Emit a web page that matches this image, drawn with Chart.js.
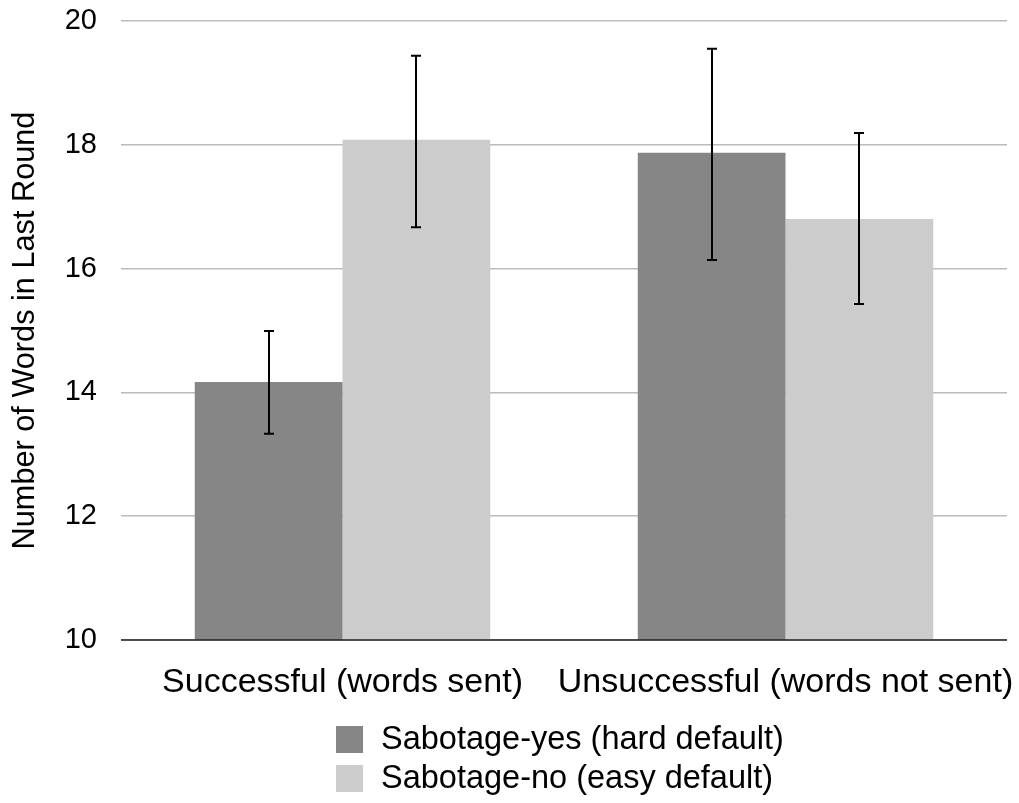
<!DOCTYPE html>
<html>
<head>
<meta charset="utf-8">
<script src="https://cdn.jsdelivr.net/npm/chart.js@4"></script>
<style>
  html, body { margin: 0; padding: 0; background: #fff; }
  #wrap { width: 1019px; height: 803px; position: relative; }
</style>
</head>
<body>
<div id="wrap"><canvas id="c" width="1019" height="803"></canvas></div>
<script>
const categories = ['Successful (words sent)', 'Unsuccessful (words not sent)'];
const seriesNames = ['Sabotage-yes (hard default)', 'Sabotage-no (easy default)'];
const yesValues = [14.17, 17.87];
const noValues = [18.08, 16.80];
const yesErrLow = [13.33, 16.14];
const yesErrHigh = [14.99, 19.55];
const noErrLow = [16.67, 15.43];
const noErrHigh = [19.44, 18.19];
const yTicks = [10, 12, 14, 16, 18, 20];
const yTitle = 'Number of Words in Last Round';

const colors = ['#858685', '#cbcccb'];
const FONT = '"Liberation Sans", Arial, Helvetica, sans-serif';

const errorBars = {
  id: 'errorBars',
  afterDatasetsDraw(chart) {
    const ctx = chart.ctx;
    const y = chart.scales.y;
    const area = chart.chartArea;
    ctx.save();
    ctx.strokeStyle = '#222';
    ctx.lineWidth = 1.6;
    ctx.beginPath();
    ctx.moveTo(area.left, y.getPixelForValue(yTicks[0]));
    ctx.lineTo(area.right, y.getPixelForValue(yTicks[0]));
    ctx.stroke();
    const lows = [yesErrLow, noErrLow];
    const highs = [yesErrHigh, noErrHigh];
    ctx.strokeStyle = '#000';
    ctx.lineWidth = 2;
    chart.data.datasets.forEach((ds, di) => {
      const meta = chart.getDatasetMeta(di);
      meta.data.forEach((bar, i) => {
        const x = Math.round(bar.x);
        const yl = y.getPixelForValue(lows[di][i]);
        const yh = y.getPixelForValue(highs[di][i]);
        ctx.beginPath();
        ctx.moveTo(x, yl); ctx.lineTo(x, yh);
        ctx.moveTo(x - 5, yl); ctx.lineTo(x + 5, yl);
        ctx.moveTo(x - 5, yh); ctx.lineTo(x + 5, yh);
        ctx.stroke();
      });
    });
    ctx.restore();
  },
  afterDraw(chart) {
    const ctx = chart.ctx;
    ctx.save();
    ctx.font = '32.5px ' + FONT;
    ctx.textBaseline = 'middle';
    ctx.textAlign = 'left';
    const rows = [726, 765];
    seriesNames.forEach((name, i) => {
      ctx.fillStyle = colors[i];
      ctx.fillRect(336, rows[i], 27, 27);
      ctx.fillStyle = '#000';
      ctx.fillText(name, 381, rows[i] + 14);
    });
    ctx.restore();
  }
};

new Chart(document.getElementById('c'), {
  type: 'bar',
  data: {
    labels: categories,
    datasets: [
      { label: seriesNames[0], data: yesValues, backgroundColor: colors[0], borderWidth: 0 },
      { label: seriesNames[1], data: noValues, backgroundColor: colors[1], borderWidth: 0 }
    ]
  },
  options: {
    responsive: false,
    animation: false,
    devicePixelRatio: 1,
    layout: { padding: { top: 21, right: 12, left: 0, bottom: 0 } },
    datasets: { bar: { categoryPercentage: 0.667, barPercentage: 1.0 } },
    plugins: { legend: { display: false }, tooltip: { enabled: false } },
    scales: {
      x: {
        grid: { display: false, drawTicks: false },
        border: { display: false },
        ticks: { color: '#000', font: { family: FONT, size: 34 }, padding: 22, maxRotation: 0, autoSkip: false },
        afterFit(scale) {
          scale.height = 163;
          scale.paddingLeft = 0; scale.paddingRight = 0;
          scale.paddingTop = 0; scale.paddingBottom = 0;
        }
      },
      y: {
        min: yTicks[0],
        max: yTicks[yTicks.length - 1],
        afterBuildTicks(scale) { scale.ticks = yTicks.map(v => ({ value: v })); },
        grid: { color: '#bcbcbc', lineWidth: 1.5, drawTicks: false },
        border: { display: false },
        ticks: { color: '#000', font: { family: FONT, size: 29 }, padding: 24 },
        title: { display: true, text: yTitle, color: '#000', font: { family: FONT, size: 30.7 }, padding: { top: 7, bottom: 0 } },
        afterFit(scale) {
          scale.width = 121;
          scale.paddingLeft = 0; scale.paddingRight = 0;
          scale.paddingTop = 0; scale.paddingBottom = 0;
        }
      }
    }
  },
  plugins: [errorBars]
});
</script>
</body>
</html>
